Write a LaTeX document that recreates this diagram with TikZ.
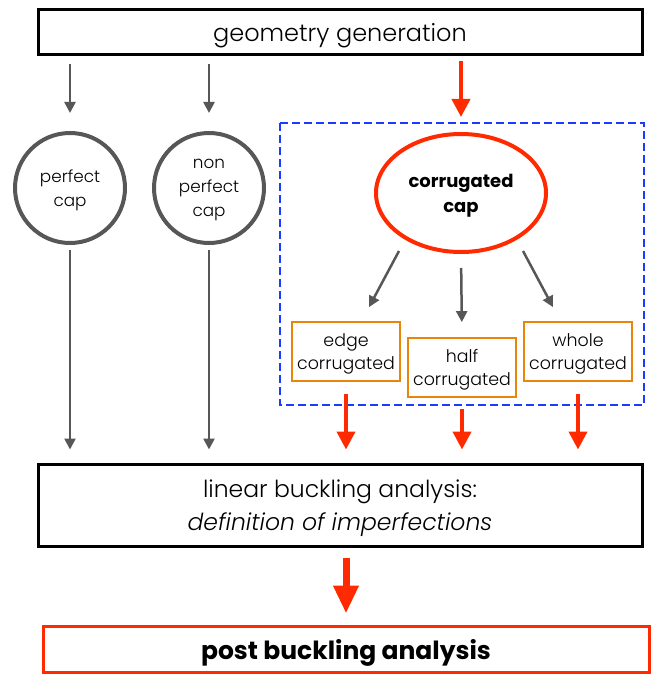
\documentclass[tikz,border=0pt]{standalone}
\usepackage{fontspec}
\IfFontExistsTF{Poppins Light}
  {\setmainfont{Poppins Light}[BoldFont=Poppins Bold,ItalicFont=Poppins Light Italic]}
  {\setmainfont{Poppins}}
\usetikzlibrary{arrows.meta,shapes.geometric}

\definecolor{flowred}{HTML}{FF2A00}
\definecolor{flowgray}{HTML}{575757}
\definecolor{flowblue}{HTML}{1A3CFF}
\definecolor{floworange}{HTML}{E8860A}

\tikzset{
  widebox/.style={draw=black, line width=3pt, minimum width=604pt, inner sep=0pt, text depth=0pt},
  capcircle/.style={circle, draw=flowgray, line width=4pt, minimum size=110pt, inner sep=0pt,
    align=center, text depth=0pt, font=\fontsize{16.8}{24}\selectfont},
  capellipse/.style={ellipse, draw=flowred, line width=4pt, minimum width=170pt, minimum height=118pt,
    inner sep=0pt, align=center, text depth=0pt, font=\fontsize{18}{25}\selectfont\bfseries},
  typebox/.style={draw=floworange, line width=1.8pt, minimum width=108pt, minimum height=59pt,
    inner sep=0pt, align=center, text depth=0pt, font=\fontsize{17.4}{23}\selectfont},
  grayarrow/.style={draw=flowgray, line width=2.5pt, -{Triangle[length=11pt,width=11pt]}},
  redarrow/.style={draw=flowred, line width=4pt, -{Triangle[length=18pt,width=18pt]}},
  bigarrow/.style={draw=flowred, line width=7pt, -{Triangle[length=28pt,width=24pt]}},
}

\begin{document}
\begin{tikzpicture}[x=1pt, y=-1pt]
\useasboundingbox (0,0) rectangle (654,674);

%geometry generation
\node[widebox, minimum height=45pt, text height=19pt, font=\fontsize{24}{28}\selectfont] (geo) at (340,32.5) {geometry generation};

%perfect and non perfect caps
\node[capcircle] (perf) at (70,188) {perfect\\cap};
\node[capcircle] (nonperf) at (209,188) {non\\perfect\\cap};

%corrugated group
\draw[flowblue, line width=2.5pt, dash pattern=on 8pt off 4pt] (280,123) rectangle (644,405);
\node[capellipse] (corr) at (461,193) {corrugated\\cap};
\node[typebox] (edge) at (346,351.5) {edge\\corrugated};
\node[typebox] (half) at (462,367.5) {half\\corrugated};
\node[typebox] (whole) at (578,351.5) {whole\\corrugated};

%linear buckling
\node[widebox, minimum height=82pt, align=center, font=\fontsize{23.5}{33}\selectfont] (lin) at (340,505)
  {linear buckling analysis:\\\itshape definition of imperfections};

%post buckling
\node[draw=flowred, line width=3pt, minimum width=606pt, minimum height=46pt, inner sep=0pt, text depth=0pt,
  font=\fontsize{25}{28}\selectfont\bfseries] (post) at (346,649) {post buckling analysis};

%arrows out of geometry generation
\draw[grayarrow, shorten <=8pt, shorten >=18pt] (perf.north |- geo.south) -- (perf.north);
\draw[grayarrow, shorten <=8pt, shorten >=18pt] (nonperf.north |- geo.south) -- (nonperf.north);
\draw[redarrow, shorten <=5pt, shorten >=15pt] (corr.north |- geo.south) -- (corr.north);

%corrugation types
\draw[grayarrow] ([xshift=-62pt, yshift=-58pt]corr.center) -- ([xshift=23pt, yshift=14pt]edge.north);
\draw[grayarrow, shorten <=14pt, shorten >=15pt] (corr.south) -- (half.north);
\draw[grayarrow] ([xshift=62pt, yshift=-58pt]corr.center) -- ([xshift=-25pt, yshift=14pt]whole.north);

%into linear buckling
\draw[grayarrow, shorten <=5pt, shorten >=13pt] (perf.south) -- (perf.south |- lin.north);
\draw[grayarrow, shorten <=5pt, shorten >=13pt] (nonperf.south) -- (nonperf.south |- lin.north);
\draw[redarrow, shorten <=12pt, shorten >=13pt] (edge.south) -- (edge.south |- lin.north);
\draw[redarrow, shorten <=11pt, shorten >=13pt] (half.south) -- (half.south |- lin.north);
\draw[redarrow, shorten <=12pt, shorten >=13pt] (whole.south) -- (whole.south |- lin.north);

%into post buckling
\draw[bigarrow, shorten <=10pt, shorten >=11pt] (post.north |- lin.south) -- (post.north);
\end{tikzpicture}
\end{document}
